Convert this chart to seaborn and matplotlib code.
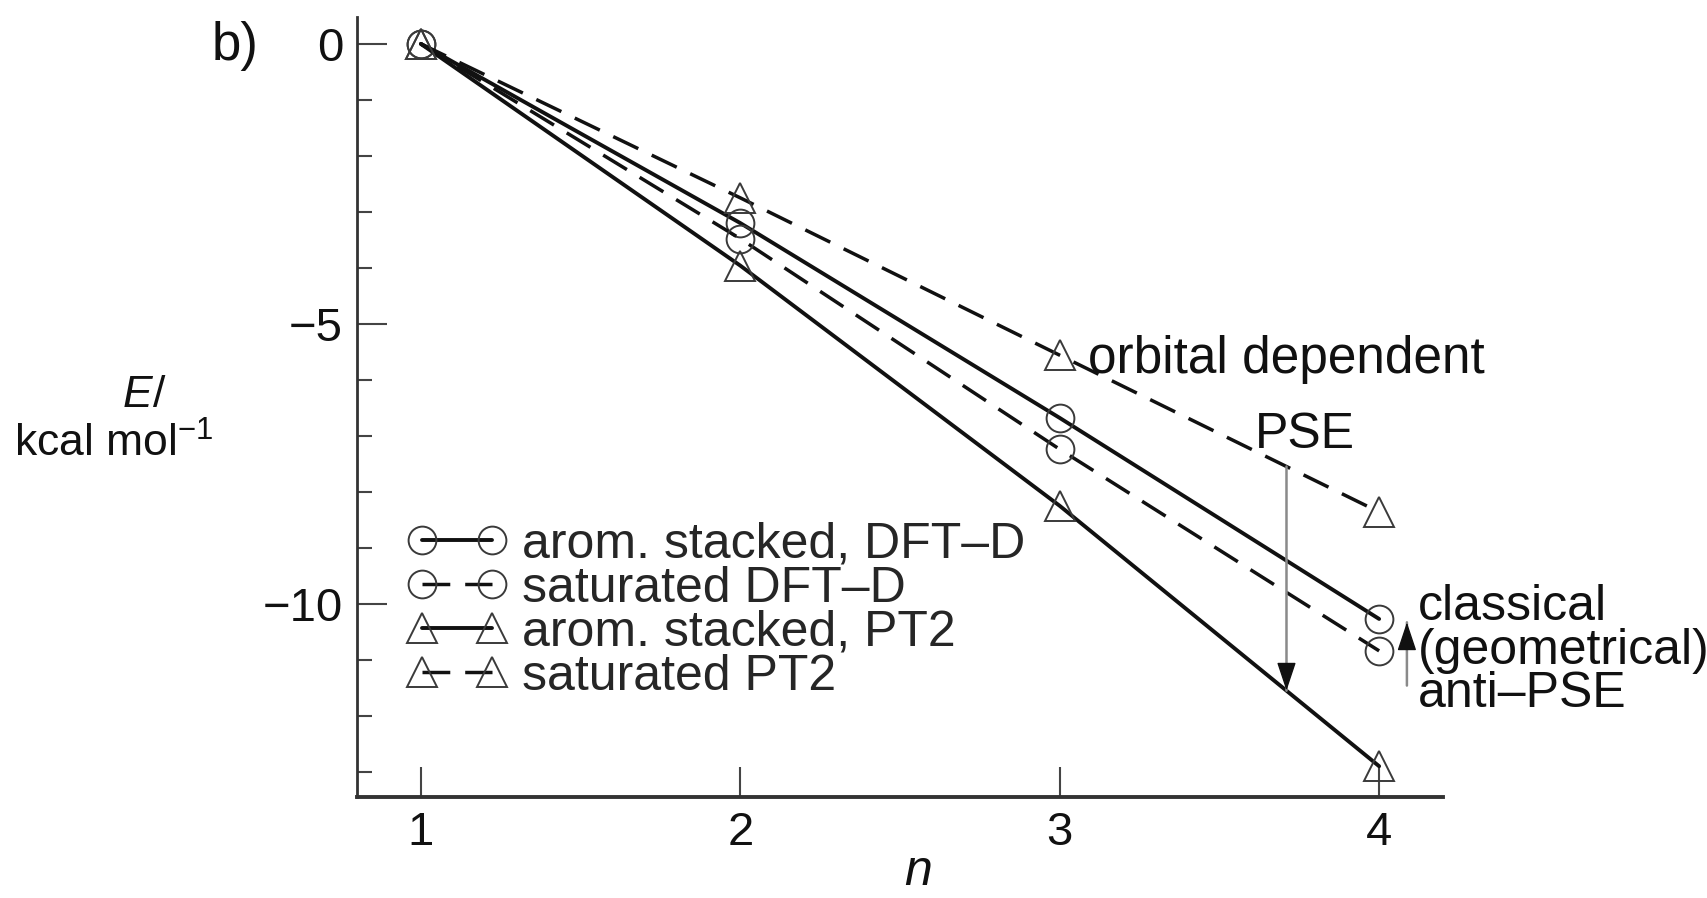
import numpy as np
import matplotlib
matplotlib.use("Agg")
import matplotlib.pyplot as plt
from matplotlib.ticker import MultipleLocator, FixedLocator
import seaborn as sns

# ---- data ----
n_values = [1, 2, 3, 4]
arom_dftd = [0.0, -3.20, -6.68, -10.27]
sat_dftd = [0.0, -3.48, -7.24, -10.84]
arom_pt2 = [0.0, -3.96, -8.25, -12.90]
sat_pt2 = [0.0, -2.75, -5.56, -8.36]
series_labels = ["arom. stacked, DFT–D", "saturated DFT–D",
                 "arom. stacked, PT2", "saturated PT2"]
x_ticks = [1, 2, 3, 4]
y_major_ticks = [-10, -5, 0]

sns.set_theme(style="ticks")
plt.rcParams["font.family"] = ["Liberation Sans", "DejaVu Sans"]
plt.rcParams["mathtext.fontset"] = "custom"
plt.rcParams["mathtext.rm"] = "Liberation Sans"
plt.rcParams["mathtext.it"] = "Liberation Sans:italic"
plt.rcParams["mathtext.default"] = "regular"

FS_TICK = 34
FS_TEXT = 36
INK = "#111111"
MEC = "#3a3a3a"
GRAY = "#8a8a8a"

W, H = 1708, 898
fig = plt.figure(figsize=(W / 100, H / 100), dpi=100)
ax = fig.add_axes([357 / W, 1 - 797 / H, (1443 - 357) / W, (797 - 17) / H])

specs = [
    (arom_dftd, "o", "-", 20, 2.8),
    (sat_dftd, "o", (0, (8, 4.3)), 20, 2.5),
    (arom_pt2, "^", "-", 21, 2.8),
    (sat_pt2, "^", (0, (8, 4.3)), 21, 2.5),
]
handles = []
for (vals, mk, ls, ms, lw), lab in zip(specs, series_labels):
    sns.lineplot(x=n_values, y=vals, ax=ax, color=INK, linestyle=ls,
                 linewidth=lw, marker=mk, markersize=ms,
                 markerfacecolor="none", markeredgecolor=MEC,
                 markeredgewidth=1.4, errorbar=None, legend=False,
                 label=lab)
    handles.append(ax.lines[-1])

leg = ax.legend(handles=handles, labels=series_labels, loc="center left",
                bbox_to_anchor=(0.0465, 0.2387), frameon=False,
                fontsize=FS_TEXT, numpoints=2, handlelength=1.99,
                handletextpad=0.3, labelspacing=-0.04, borderpad=0,
                borderaxespad=0)

# axes
ax.set_xlim(0.8, 4.2)
ax.set_ylim(-13.45, 0.48)
ax.xaxis.set_major_locator(FixedLocator(x_ticks))
ax.yaxis.set_major_locator(FixedLocator(y_major_ticks))
ax.yaxis.set_minor_locator(MultipleLocator(1))
ax.tick_params(axis="both", which="major", direction="in", length=21.6,
               width=1.5, labelsize=FS_TICK, pad=10, color="#444444",
               labelcolor=INK)
ax.tick_params(axis="y", which="minor", direction="in", length=11,
               width=1.5, color="#444444")
for side in ("top", "right"):
    ax.spines[side].set_visible(False)
ax.spines["left"].set_linewidth(2.0)
ax.spines["bottom"].set_linewidth(2.8)
ax.spines["left"].set_color("#333333")
ax.spines["bottom"].set_color("#333333")

ax.set_xlabel("n", fontsize=FS_TEXT, fontstyle="italic", color=INK)
ax.xaxis.set_label_coords((918 - 357) / 1086, -(872 - 797) / 780)
ax.xaxis.label.set_va("center")

ax.set_ylabel("$\\quad\\ \\ \\mathit{E}$/\nkcal mol$^{-1}$", fontsize=32,
              rotation=0, color=INK, multialignment="center")
ax.yaxis.set_label_coords((114 - 357) / 1086, (797 - 420) / 780)
ax.yaxis.label.set_va("center")
ax.yaxis.label.set_ha("center")

# annotations
ax.text(3.09, -5.88, "orbital dependent", fontsize=FS_TEXT + 1, ha="left",
        va="baseline", color=INK)
ax.text(3.767, -7.22, "PSE", fontsize=FS_TEXT, ha="center", va="baseline",
        color=INK)
for y, s in [(-10.29, "classical"), (-11.08, "(geometrical)"),
             (-11.85, "anti–PSE")]:
    ax.text(4.122, y, s, fontsize=FS_TEXT, ha="left", va="baseline",
            color=INK)

pse_x = 3.71
pse_top = float(np.interp(pse_x, n_values, sat_pt2))
pse_bottom = float(np.interp(pse_x, n_values, arom_pt2))
head = "-|>,head_length=0.9,head_width=0.3"
ax.annotate("", xy=(pse_x, pse_bottom), xytext=(pse_x, pse_top),
            arrowprops=dict(arrowstyle="-", color=GRAY, lw=1.8,
                            shrinkA=0, shrinkB=0))
ax.annotate("", xy=(pse_x, pse_bottom), xytext=(pse_x, pse_bottom + 0.45),
            arrowprops=dict(arrowstyle=head, color=INK, lw=1,
                            mutation_scale=20, shrinkA=0, shrinkB=0))

anti_x, anti_lo, anti_hi = 4.087, -11.46, -10.33
ax.annotate("", xy=(anti_x, anti_hi), xytext=(anti_x, anti_lo),
            arrowprops=dict(arrowstyle="-", color=GRAY, lw=1.8,
                            shrinkA=0, shrinkB=0), annotation_clip=False)
ax.annotate("", xy=(anti_x, anti_hi), xytext=(anti_x, anti_hi - 0.45),
            arrowprops=dict(arrowstyle=head, color=INK, lw=1,
                            mutation_scale=20, shrinkA=0, shrinkB=0),
            annotation_clip=False)

fig.text(212 / W, 1 - 46 / H, "b)", fontsize=FS_TEXT + 2, ha="left",
         va="center", color=INK)

fig.savefig("out.png", dpi=100, facecolor="white")
